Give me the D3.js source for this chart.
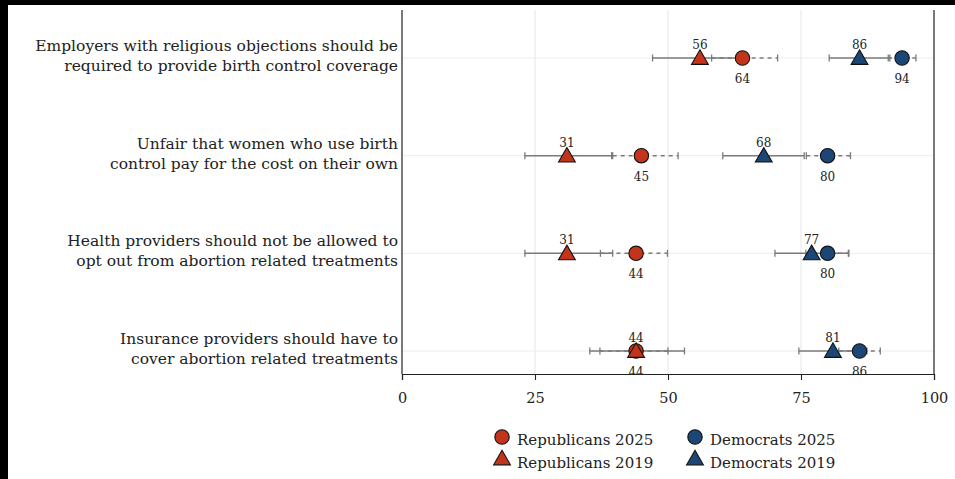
<!DOCTYPE html>
<html>
<head>
<meta charset="utf-8">
<script src="https://cdn.jsdelivr.net/npm/d3@7"></script>
<style>
  html, body { margin: 0; padding: 0; background: #fff; }
  svg { display: block; }
  text { font-family: "DejaVu Serif", serif; fill: #222; }
</style>
</head>
<body>
<svg id="chart" width="955" height="479"></svg>
<script>
// Survey items (two-line labels)
const categories = [
  ["Employers with religious objections should be", "required to provide birth control coverage"],
  ["Unfair that women who use birth", "control pay for the cost on their own"],
  ["Health providers should not be allowed to", "opt out from abortion related treatments"],
  ["Insurance providers should have to", "cover abortion related treatments"]
];

// Share agreeing (%), with confidence intervals
const rep2025 = [64, 45, 44, 44];
const rep2025Lo = [58.2, 39.6, 37.3, 37.2];
const rep2025Hi = [70.6, 51.9, 49.9, 50.0];

const rep2019 = [56, 31, 31, 44];
const rep2019Lo = [47.1, 23.1, 23.1, 35.3];
const rep2019Hi = [65.0, 39.4, 39.6, 53.1];

const dem2025 = [94, 80, 80, 86];
const dem2025Lo = [91.4, 76.0, 75.9, 82.1];
const dem2025Hi = [96.6, 84.3, 84.0, 89.9];

const dem2019 = [86, 68, 77, 81];
const dem2019Lo = [80.3, 60.3, 70.1, 74.6];
const dem2019Hi = [91.7, 75.6, 83.9, 87.4];

const xTicks = [0, 25, 50, 75, 100];

const RED = "#c3341c";
const BLUE = "#1c4675";

const series = [
  { name: "Republicans 2025", vals: rep2025, lo: rep2025Lo, hi: rep2025Hi, color: RED, shape: "circle", dashed: true },
  { name: "Republicans 2019", vals: rep2019, lo: rep2019Lo, hi: rep2019Hi, color: RED, shape: "triangle", dashed: false },
  { name: "Democrats 2025", vals: dem2025, lo: dem2025Lo, hi: dem2025Hi, color: BLUE, shape: "circle", dashed: true },
  { name: "Democrats 2019", vals: dem2019, lo: dem2019Lo, hi: dem2019Hi, color: BLUE, shape: "triangle", dashed: false }
];

const svg = d3.select("#chart");

// dark frame strips along the top and left edge
svg.append("rect").attr("x", 0).attr("y", 0).attr("width", 955).attr("height", 5).attr("fill", "#000");
svg.append("rect").attr("x", 0).attr("y", 0).attr("width", 8).attr("height", 479).attr("fill", "#000");

const plot = { left: 402, right: 934, top: 10, bottom: 374 };

const x = d3.scaleLinear().domain([0, 100]).range([plot.left, plot.right]);
const y = d3.scalePoint().domain(d3.range(categories.length)).range([58, 351]);

const circleSym = d3.symbol().type(d3.symbolCircle).size(Math.PI * 7.2 * 7.2);
const triSym = d3.symbol().type(d3.symbolTriangle).size(122);

svg.append("defs").append("clipPath").attr("id", "plotClip")
  .append("rect")
  .attr("x", plot.left).attr("y", plot.top)
  .attr("width", plot.right - plot.left).attr("height", plot.bottom - plot.top);

// vertical grid lines
svg.append("g").selectAll("line").data(xTicks.filter(t => t > 0 && t < 100)).join("line")
  .attr("x1", d => x(d)).attr("x2", d => x(d))
  .attr("y1", plot.top).attr("y2", plot.bottom)
  .attr("stroke", "#e6e6e6").attr("stroke-width", 1);

// horizontal grid lines per item
svg.append("g").selectAll("line").data(d3.range(categories.length)).join("line")
  .attr("x1", plot.left).attr("x2", plot.right)
  .attr("y1", d => y(d)).attr("y2", d => y(d))
  .attr("stroke", "#ececec").attr("stroke-width", 1);

// confidence intervals: dashed (2025) drawn beneath solid (2019)
const ciG = svg.append("g").attr("clip-path", "url(#plotClip)");
const ciOrder = series.filter(s => s.dashed).concat(series.filter(s => !s.dashed));
ciOrder.forEach(s => {
  const g = ciG.append("g");
  const rows = d3.range(categories.length);
  g.selectAll("line.ci").data(rows).join("line")
    .attr("x1", i => x(s.lo[i])).attr("x2", i => x(s.hi[i]))
    .attr("y1", i => y(i)).attr("y2", i => y(i))
    .attr("stroke", "#7a7a7a").attr("stroke-width", 1.5)
    .attr("stroke-dasharray", s.dashed ? "4,4" : null);
  ["lo", "hi"].forEach(k => {
    g.selectAll("line.cap-" + k).data(rows).join("line")
      .attr("x1", i => x(s[k][i])).attr("x2", i => x(s[k][i]))
      .attr("y1", i => y(i) - 3.5).attr("y2", i => y(i) + 3.5)
      .attr("stroke", "#7a7a7a").attr("stroke-width", 1.3);
  });
});

// markers: circles first, triangles on top
const markG = svg.append("g");
series.filter(s => s.shape === "circle").concat(series.filter(s => s.shape === "triangle")).forEach(s => {
  markG.append("g").selectAll("path").data(s.vals).join("path")
    .attr("d", s.shape === "circle" ? circleSym : triSym)
    .attr("transform", (v, i) => `translate(${x(v)},${y(i) + (s.shape === "triangle" ? 1.5 : 0)})`)
    .attr("fill", s.color).attr("stroke", "#111").attr("stroke-width", 1.1);
});

// value labels: 2019 above, 2025 below (clipped at the axis)
const labG = svg.append("g").attr("clip-path", "url(#plotClip)");
series.forEach(s => {
  labG.append("g").selectAll("text").data(s.vals).join("text")
    .attr("x", v => x(v))
    .attr("y", (v, i) => y(i) + (s.shape === "triangle" ? -9 : 25))
    .attr("text-anchor", "middle")
    .attr("font-size", 12)
    .text(v => v);
});

// frame: left, bottom, right
svg.append("line").attr("x1", plot.left).attr("x2", plot.left).attr("y1", plot.top).attr("y2", plot.bottom)
  .attr("stroke", "#222").attr("stroke-width", 1.2);
svg.append("line").attr("x1", plot.right).attr("x2", plot.right).attr("y1", plot.top).attr("y2", plot.bottom)
  .attr("stroke", "#222").attr("stroke-width", 1.2);

// bottom axis
const xAxis = d3.axisBottom(x).tickValues(xTicks).tickSize(6).tickPadding(13).tickFormat(d3.format("d"));
const axG = svg.append("g").attr("transform", `translate(0,${plot.bottom})`).call(xAxis);
axG.select(".domain").attr("stroke", "#222").attr("stroke-width", 1.2);
axG.selectAll(".tick line").attr("stroke", "#222").attr("stroke-width", 1.1);
axG.selectAll(".tick text").attr("font-family", "DejaVu Serif, serif").attr("font-size", 14.5).attr("fill", "#222");

// item labels
const ylab = svg.append("g");
categories.forEach((lines, i) => {
  const t = ylab.append("text")
    .attr("x", 398).attr("y", y(i) - 7)
    .attr("text-anchor", "end")
    .attr("font-size", 15.5);
  lines.forEach((ln, j) => {
    t.append("tspan").attr("x", 398).attr("dy", j === 0 ? 0 : 20).text(ln);
  });
});

// legend
const legendCols = [502, 695];
const legendRows = [437, 460];
const legend = svg.append("g");
series.forEach((s, k) => {
  const cx = legendCols[k < 2 ? 0 : 1];
  const cy = legendRows[k % 2];
  legend.append("path")
    .attr("d", s.shape === "circle" ? circleSym : triSym)
    .attr("transform", `translate(${cx},${cy})`)
    .attr("fill", s.color).attr("stroke", "#111").attr("stroke-width", 1.1);
  legend.append("text")
    .attr("x", cx + 15).attr("y", cy + 8)
    .attr("font-size", 15)
    .text(s.name);
});
</script>
</body>
</html>
